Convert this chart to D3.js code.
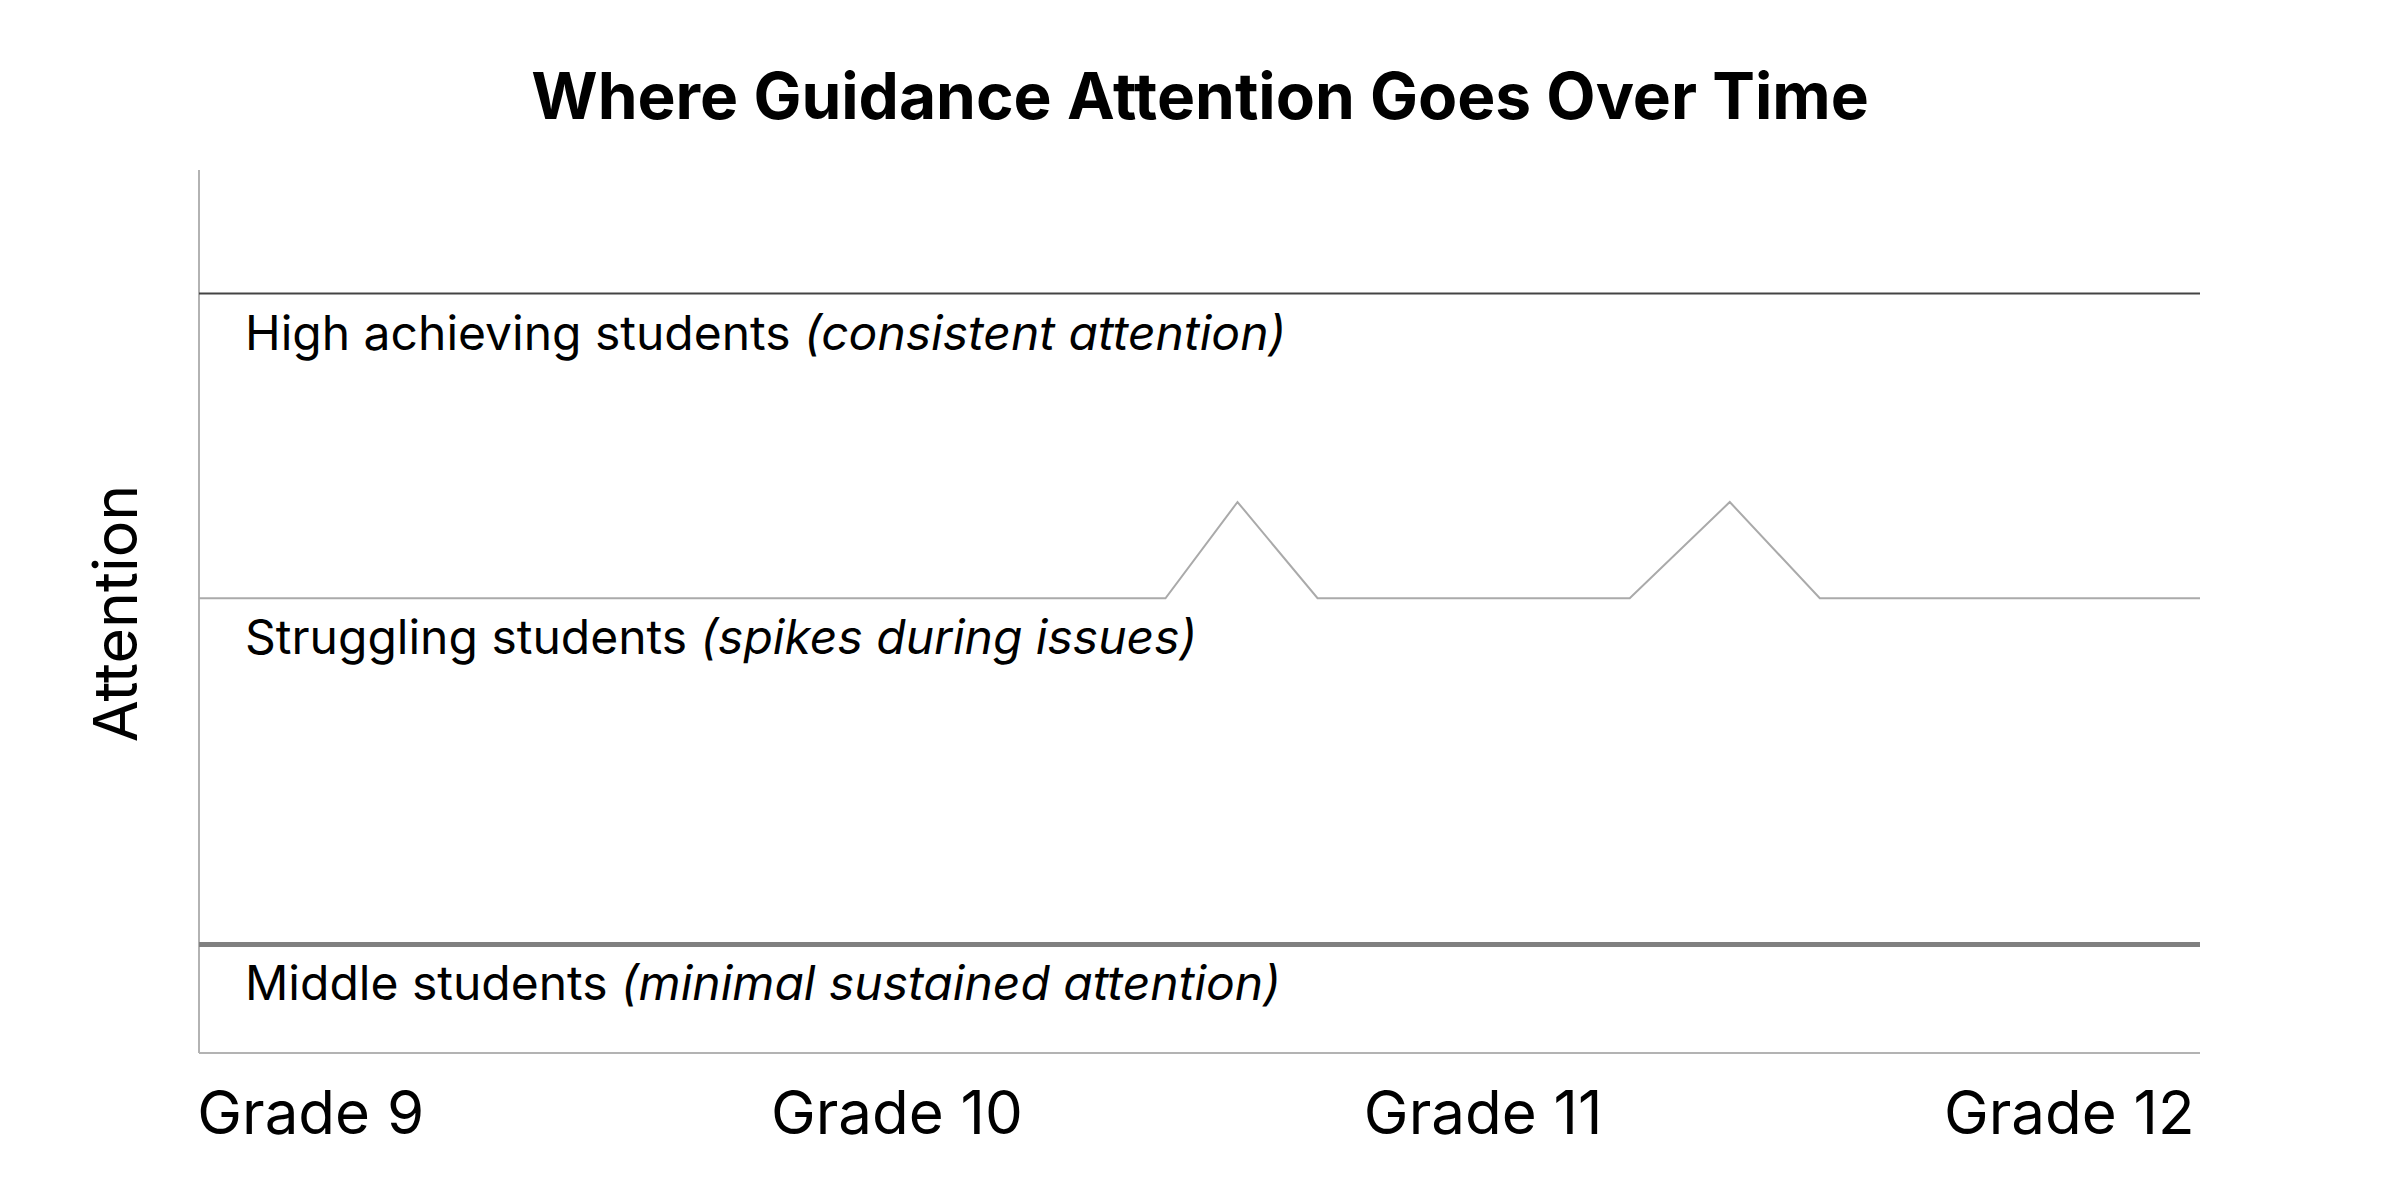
<!DOCTYPE html>
<html>
<head>
<meta charset="utf-8">
<script src="https://cdn.jsdelivr.net/npm/d3@7"></script>
<style>
  html, body { margin: 0; padding: 0; background: #fff; }
  svg { display: block; font-family: Inter, "Noto Sans", sans-serif; }
</style>
</head>
<body>
<svg id="chart" width="2400" height="1200"></svg>
<script>
// ---- data ----
const gradeLabels = ["Grade 9", "Grade 10", "Grade 11", "Grade 12"];
const timeline = [0, 48.3, 51.9, 55.9, 71.5, 76.5, 81.0, 100];
const highValues = [8.6, 8.6, 8.6, 8.6, 8.6, 8.6, 8.6, 8.6];
const strugglingValues = [5.15, 5.15, 6.24, 5.15, 5.15, 6.24, 5.15, 5.15];
const middleValues = [1.23, 1.23, 1.23, 1.23, 1.23, 1.23, 1.23, 1.23];
const seriesNames = ["High achieving students", "Struggling students", "Middle students"];
const seriesNotes = ["(consistent attention)", "(spikes during issues)", "(minimal sustained attention)"];
const titleText = "Where Guidance Attention Goes Over Time";
const yLabel = "Attention";

// ---- layout ----
const W = 2400, H = 1200;
const m = { left: 199, right: 200, top: 170, bottom: 147 };
const svg = d3.select("#chart");

const x = d3.scaleLinear().domain([0, 100]).range([m.left, W - m.right]);
const y = d3.scaleLinear().domain([0, 10]).range([H - m.bottom, m.top]);
const xLab = d3.scalePoint().domain(gradeLabels).range([m.left - 6, W - m.right - 14]).padding(0.2);

// title
svg.append("text")
  .attr("x", W / 2).attr("y", 119)
  .attr("text-anchor", "middle")
  .attr("font-weight", 700).attr("font-size", 64)
  .attr("fill", "#000")
  .text(titleText);

// axes lines (left and bottom)
svg.append("line")
  .attr("x1", x(0)).attr("x2", x(0))
  .attr("y1", m.top).attr("y2", y(0))
  .attr("stroke", "#b3b3b3").attr("stroke-width", 2);
svg.append("line")
  .attr("x1", x(0)).attr("x2", x(100))
  .attr("y1", y(0)).attr("y2", y(0))
  .attr("stroke", "#b3b3b3").attr("stroke-width", 2);

// x tick labels
const xAxis = d3.axisBottom(xLab).tickSize(0).tickPadding(0);
const gx = svg.append("g").attr("transform", `translate(0,${y(0)})`).call(xAxis);
gx.select(".domain").remove();
gx.selectAll("text")
  .attr("y", 0).attr("dy", 0)
  .attr("transform", "translate(0,81)")
  .attr("font-family", "Inter, 'Noto Sans', sans-serif")
  .attr("font-size", 60).attr("fill", "#000");

// y label
svg.append("text")
  .attr("transform", `translate(137,${(m.top + y(0)) / 2 + 2}) rotate(-90)`)
  .attr("text-anchor", "middle")
  .attr("font-size", 61).attr("fill", "#000")
  .text(yLabel);

// lines
const line = d3.line().x((d, i) => x(timeline[i])).y(d => y(d));
const seriesVals = [highValues, strugglingValues, middleValues];
const strokes = ["#444444", "#aaaaaa", "#808080"];
const widths = [2, 2, 5];
seriesVals.forEach((vals, k) => {
  svg.append("path")
    .datum(vals)
    .attr("d", line)
    .attr("fill", "none")
    .attr("stroke", strokes[k])
    .attr("stroke-width", widths[k]);
});

// labels
seriesVals.forEach((vals, k) => {
  const t = svg.append("text")
    .attr("x", x(0) + 46)
    .attr("y", y(vals[0]) + 56)
    .attr("font-size", 48).attr("fill", "#000");
  t.append("tspan").text(seriesNames[k] + " ");
  t.append("tspan").attr("font-style", "italic").text(seriesNotes[k]);
});
</script>
</body>
</html>
